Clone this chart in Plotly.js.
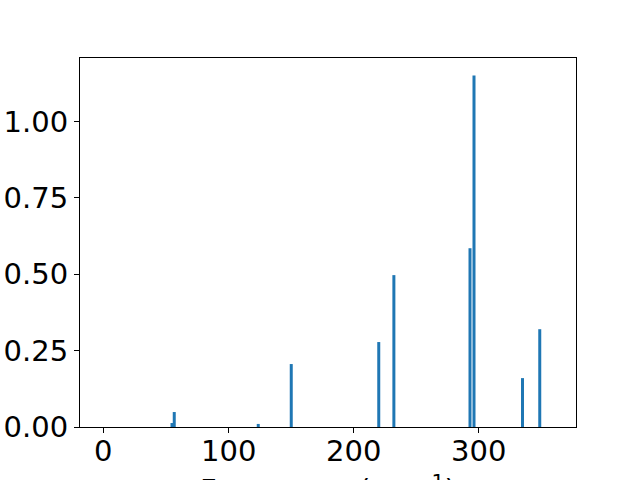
<!DOCTYPE html>
<html>
<head>
<meta charset="utf-8">
<script src="https://cdn.plot.ly/plotly-3.0.1.min.js"></script>
<style>html,body{margin:0;padding:0;background:#fff;}#chart{width:640px;height:480px;}</style>
</head>
<body>
<div id="chart"></div>
<script>
const frequencies = [55.2, 57.0, 124.2, 150.6, 220.6, 232.7, 293.6, 296.8, 335.6, 349.4];
const intensities = [0.013, 0.049, 0.010, 0.206, 0.278, 0.497, 0.585, 1.150, 0.160, 0.320];
const xTicks = [0, 100, 200, 300];
const yTicks = [0, 0.25, 0.5, 0.75, 1.0];
const yTickLabels = ['0.00', '0.25', '0.50', '0.75', '1.00'];
const xTitle = 'Frequency (cm<sup>−1</sup>)';

const font = {family: 'DejaVu Sans', size: 29, color: '#000'};
const trace = {
  type: 'bar',
  x: frequencies,
  y: intensities,
  width: frequencies.map(() => 2.4),
  marker: {color: '#1f77b4', line: {width: 0}},
  hoverinfo: 'skip'
};
const axisCommon = {
  showgrid: false, zeroline: false, showline: true, mirror: true,
  linecolor: '#000', linewidth: 1, ticks: 'outside', ticklen: 5,
  tickwidth: 1, tickcolor: '#000', tickfont: font
};
const xTickAnnotations = xTicks.map(v => ({
  text: String(v), xref: 'x', yref: 'paper', x: v, y: 0,
  xanchor: 'center', yanchor: 'top', yshift: -5, showarrow: false, font: font
}));
const layout = {
  width: 640, height: 480,
  margin: {l: 80, r: 64, t: 58, b: 53},
  paper_bgcolor: '#fff', plot_bgcolor: '#fff',
  showlegend: false,
  font: font,
  xaxis: Object.assign({}, axisCommon, {
    range: [-18.4, 378.4], tickvals: xTicks, showticklabels: false,
    automargin: false
  }),
  yaxis: Object.assign({}, axisCommon, {
    range: [0, 1.2075], tickvals: yTicks, ticktext: yTickLabels,
    automargin: false
  }),
  annotations: xTickAnnotations.concat([{
    text: xTitle, xref: 'paper', yref: 'paper', x: 0.5, y: 0,
    xanchor: 'center', yanchor: 'top', yshift: -40, showarrow: false,
    font: font
  }])
};
Plotly.newPlot('chart', [trace], layout, {staticPlot: true, displayModeBar: false});
</script>
</body>
</html>
